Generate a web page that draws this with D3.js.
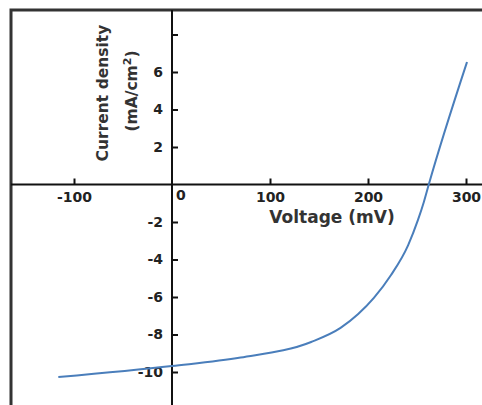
<!DOCTYPE html>
<html>
<head>
<meta charset="utf-8">
<style>
  body { margin: 0; background: #fff; }
  text { font-family: "DejaVu Sans", sans-serif; font-weight: bold; }
</style>
</head>
<body>
<div id="container"></div>
<script src="https://d3js.org/d3.v7.min.js"></script>
<script>
  // J-V curve, values
  const voltage = [-116, 0, 70, 142, 172, 190, 206, 223.5, 241, 251, 257, 262, 301];
  const current = [-10.27, -9.68, -9.23, -8.4, -7.65, -6.91, -6.05, -4.83, -3.23, -1.89, -0.93, 0, 6.53];

  const xTicks = [-100, 100, 200, 300];
  const xLabels = ["-100", "100", "200", "300"];
  const yTicks = [8, 6, 4, 2, -2, -4, -6, -8, -10];
  const yLabels = ["", "6", "4", "2", "-2", "-4", "-6", "-8", "-10"];

  const W = 482, H = 405;
  const frame = { left: 11, top: 10 };

  const svg = d3.select("#container").append("svg")
    .attr("width", W).attr("height", H);

  const x = d3.scaleLinear().domain([-100, 300]).range([74, 466]);
  const y = d3.scaleLinear().domain([-10, 6]).range([372, 72]);

  const x0 = x(0), y0 = y(0);

  // outer frame (cropped on the right / bottom)
  svg.append("path")
    .attr("d", `M${frame.left},${H}V${frame.top}H${W}`)
    .attr("fill", "none").attr("stroke", "#333").attr("stroke-width", 3);

  // the two axis lines through the origin
  svg.append("line").attr("x1", frame.left).attr("x2", W).attr("y1", y0).attr("y2", y0)
    .attr("stroke", "#111").attr("stroke-width", 2);
  svg.append("line").attr("x1", x0).attr("x2", x0).attr("y1", frame.top).attr("y2", H)
    .attr("stroke", "#111").attr("stroke-width", 2);

  // x axis ticks pointing up, labels below
  const gx = svg.append("g")
    .attr("transform", `translate(0,${y0})`)
    .call(d3.axisBottom(x).tickValues(xTicks).tickSizeInner(-6).tickSizeOuter(0)
      .tickFormat((d, i) => xLabels[i]));
  gx.select(".domain").remove();
  gx.selectAll("line").attr("stroke", "#111").attr("stroke-width", 2);
  gx.selectAll("text").attr("y", 17.5).attr("dy", null)
    .attr("font-size", 14).attr("fill", "#222")
    .style("font-family", "DejaVu Sans").style("font-weight", "bold");

  svg.append("text").attr("x", x0 + 4).attr("y", 199.5)
    .attr("font-size", 14).attr("fill", "#222").text("0");

  // y axis ticks pointing right, labels left
  const gy = svg.append("g")
    .attr("transform", `translate(${x0},0)`)
    .call(d3.axisLeft(y).tickValues(yTicks).tickSizeInner(-6).tickSizeOuter(0)
      .tickPadding(9).tickFormat((d, i) => yLabels[i]));
  gy.select(".domain").remove();
  gy.selectAll("line").attr("stroke", "#111").attr("stroke-width", 2);
  gy.selectAll("text").attr("font-size", 14).attr("fill", "#222")
    .style("font-family", "DejaVu Sans").style("font-weight", "bold");

  // axis titles
  svg.append("text").attr("x", 332).attr("y", 223)
    .attr("text-anchor", "middle").attr("font-size", 17).attr("fill", "#333")
    .text("Voltage (mV)");

  svg.append("text").attr("transform", "translate(108,93) rotate(-90)")
    .attr("text-anchor", "middle").attr("font-size", 15.5).attr("fill", "#333")
    .text("Current density");

  const t2 = svg.append("text").attr("transform", "translate(137,91) rotate(-90)")
    .attr("text-anchor", "middle").attr("font-size", 15.5).attr("fill", "#333");
  t2.append("tspan").text("(mA/cm");
  t2.append("tspan").attr("dy", -6).attr("font-size", 11).text("2");
  t2.append("tspan").attr("dy", 6).text(")");

  // the curve
  const pts = voltage.map((v, i) => [v, current[i]]);
  svg.append("path")
    .datum(pts)
    .attr("fill", "none")
    .attr("stroke", "#4a7ebb")
    .attr("stroke-width", 2)
    .attr("d", d3.line().x(d => x(d[0])).y(d => y(d[1])).curve(d3.curveMonotoneX));
</script>
</body>
</html>
